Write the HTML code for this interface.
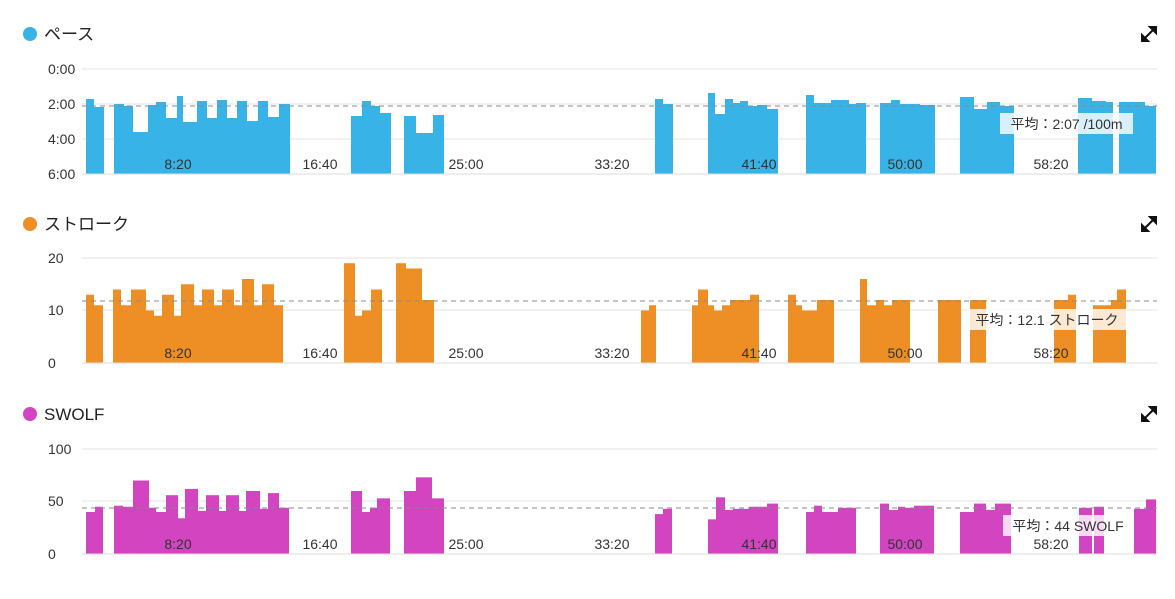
<!DOCTYPE html>
<html><head><meta charset="utf-8">
<style>
html,body{margin:0;padding:0;background:#fff;width:1175px;height:599px;overflow:hidden}
svg{display:block;font-family:"Liberation Sans","Noto Sans CJK JP",sans-serif}
</style></head>
<body>
<svg id="s" width="1175" height="599" xmlns="http://www.w3.org/2000/svg"></svg>
<script>
const s=document.getElementById('s');let h='';
function chart(o){
  // title
  h+=`<circle cx="30" cy="${o.ty}" r="7" fill="${o.c}"/>`;
  h+=`<text x="44" y="${o.ty+6}" font-size="17" fill="#222">${o.t}</text>`;
  // expand icon
  const ix=1149,iy=o.ty;
  h+=`<g stroke="#111" stroke-width="2" fill="#111"><line x1="${ix-5}" y1="${iy+5}" x2="${ix+5}" y2="${iy-5}"/>
  <polygon points="${ix-7},${iy+7} ${ix-7},${iy+1} ${ix-1},${iy+7}"/><polygon points="${ix+7},${iy-7} ${ix+7},${iy-1} ${ix+1},${iy-7}"/></g>`;
  // gridlines
  o.g.forEach(([y,l])=>{h+=`<line x1="82" x2="1157" y1="${y}" y2="${y}" stroke="#e3e3e3"/>`;
    h+=`<text x="48" y="${y+5}" font-size="14" fill="#333">${l}</text>`;});
  // bars
  o.b.forEach(([a,b,y])=>{h+=`<rect x="${a}" y="${y}" width="${b-a}" height="${o.base-y}" fill="${o.c}"/>`;});
  // x labels
  [[178,'8:20'],[320,'16:40'],[466,'25:00'],[612,'33:20'],[759,'41:40'],[905,'50:00'],[1051,'58:20']].forEach(([x,l])=>{
    h+=`<text x="${x}" y="${o.base-5}" font-size="14" fill="#333" text-anchor="middle">${l}</text>`;});
  h+=`<line x1="82" x2="1157" y1="${o.base}" y2="${o.base}" stroke="#ddd"/>`;
  h+=`<line x1="82" x2="1157" y1="${o.avg}" y2="${o.avg}" stroke="#888" stroke-dasharray="5,4"/>`;
  const [tx,ty,tw,tt]=o.tip;
  h+=`<rect x="${tx}" y="${ty}" width="${tw}" height="21" fill="#fff" fill-opacity="0.8"/>`;
  h+=`<text x="${tx+tw/2}" y="${ty+16}" font-size="14" fill="#333" text-anchor="middle">${tt}</text>`;
}
chart({ty:34,c:'#38b3e8',t:'ペース',base:174,avg:106,
g:[[69,'0:00'],[104,'2:00'],[139,'4:00'],[174,'6:00']],
tip:[1000,113,133,'平均：2:07 /100m'],
b:[[86,94,99],[94,104,107],[114,124,104],[124,133,106],[133,148,132],[148,156,105],[156,166,102],[166,177,118],[177,183,96],[183,197,122],[197,207,101],[207,217,118],[217,227,100],[227,237,118],[237,247,101],[247,258,121],[258,268,101],[268,279,117],[279,290,104],
[351,362,116],[362,371,101],[371,380,106],[380,391,113],[404,416,116],[416,433,133],[433,444,115],
[655,663,99],[663,673,104],[708,715,93],[715,725,114],[725,733,99],[733,740,103],[740,748,101],[748,757,106],[757,767,105],[767,778,109],
[806,814,95],[814,831,103],[831,849,100],[849,856,104],[856,866,103],[880,891,103],[891,900,100],[900,920,104],[920,935,105],
[960,974,97],[974,987,109],[987,1000,102],[1000,1014,106],[1078,1092,98],[1092,1106,101],[1106,1113,102],[1119,1145,102],[1145,1156,106]]});
const sy=v=>363-v*5.25;
chart({ty:224,c:'#ee8f25',t:'ストローク',base:363,avg:301,
g:[[258,'20'],[310,'10'],[363,'0']],
tip:[967,309,160,'平均：12.1 ストローク'],
b:[[86,94,13],[94,103,11],[113,121,14],[121,131,11],[131,146,14],[146,154,10],[154,162,9],[162,174,13],[174,181,9],[181,194,15],[194,202,11],[202,214,14],[214,222,11],[222,234,14],[234,242,11],[242,254,16],[254,262,11],[262,274,15],[274,283,11],
[344,355,19],[355,362,9],[362,371,10],[371,382,14],[396,406,19],[406,422,18],[422,434,12],
[641,649,10],[649,656,11],[692,698,11],[698,708,14],[708,714,11],[714,722,10],[722,730,11],[730,739,12],[739,750,12],[750,759,13],
[788,796,13],[796,802,11],[802,817,10],[817,834,12],[860,867,16],[867,876,11],[876,884,12],[884,892,11],[892,910,12],
[938,950,12],[950,961,12],[970,986,12],[1054,1068,12],[1068,1076,13],[1093,1111,11],[1111,1117,12],[1117,1126,14]].map(([a,b,v])=>[a,b,sy(v)])});
const wy=v=>554-v*1.05;
chart({ty:414,c:'#d244c0',t:'SWOLF',base:554,avg:508,
g:[[449,'100'],[501,'50'],[554,'0']],
tip:[1003,515,130,'平均：44 SWOLF'],
b:[[86,95,40],[95,103,45],[114,123,46],[123,133,45],[133,149,70],[149,156,44],[156,166,40],[166,178,56],[178,185,34],[185,198,62],[198,206,41],[206,219,56],[219,226,41],[226,239,56],[239,246,41],[246,260,60],[260,268,43],[268,279,58],[279,289,44],
[351,362,60],[362,370,40],[370,377,44],[377,390,53],[404,416,60],[416,432,73],[432,444,53],
[655,663,38],[663,672,43],[708,716,33],[716,725,54],[725,733,42],[733,740,43],[740,749,43],[749,757,45],[757,767,45],[767,778,48],
[806,814,40],[814,822,46],[822,838,40],[838,856,44],[880,889,48],[889,898,42],[898,905,45],[905,914,44],[914,934,46],
[960,974,40],[974,986,48],[986,995,42],[995,1011,48],[1079,1092,44],[1094,1104,45],[1134,1146,43],[1146,1156,52]].map(([a,b,v])=>[a,b,wy(v)])});
s.innerHTML=h;
</script>
</body></html>
